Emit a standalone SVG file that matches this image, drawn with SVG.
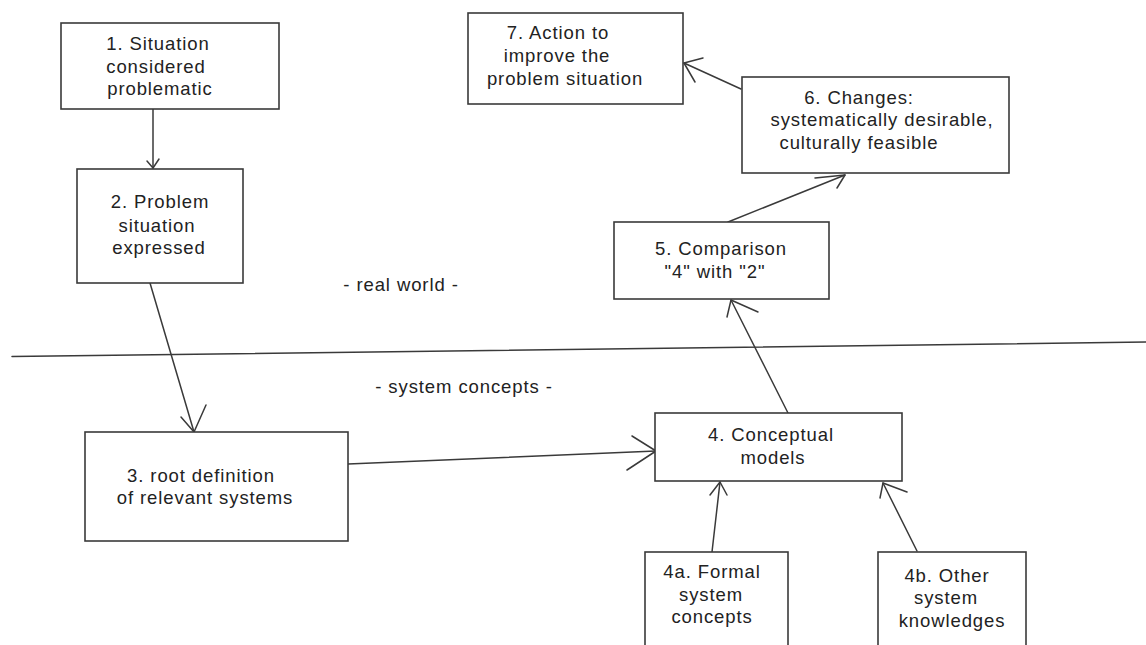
<svg xmlns="http://www.w3.org/2000/svg" width="1146" height="645" viewBox="0 0 1146 645">
<style>
.box{fill:#fff;stroke:#3a3a3a;stroke-width:1.6}
.t{font-family:"Liberation Sans",Arial,sans-serif;font-size:18.5px;letter-spacing:0.9px;fill:#222;text-anchor:middle}
.c{fill:none;stroke:#3a3a3a;stroke-width:1.5;stroke-linecap:round;stroke-linejoin:round}
</style>
<rect width="1146" height="645" fill="#fff"/>
<g id="divider">
<line class="c" x1="12" y1="356.5" x2="1146" y2="342"/>
<text class="t" x="401" y="291">- real world -</text>
<text class="t" x="464" y="393">- system concepts -</text>
</g>
<g id="connectors">
<line class="c" x1="153" y1="109" x2="153" y2="168"/>
<polyline class="c" points="147,161 153,168 159,159"/>
<line class="c" x1="150" y1="283" x2="194" y2="432"/>
<polyline class="c" points="181,417 194,432 206,405"/>
<line class="c" x1="348" y1="464" x2="656" y2="451"/>
<polyline class="c" points="632,436 656,451 627,470"/>
<line class="c" x1="788" y1="413" x2="731" y2="300"/>
<polyline class="c" points="758,312 731,300 727,317"/>
<line class="c" x1="728" y1="222" x2="845" y2="175"/>
<polyline class="c" points="815,178 845,175 837,188"/>
<line class="c" x1="741" y1="89" x2="684" y2="63"/>
<polyline class="c" points="703,58 684,63 695,82"/>
<line class="c" x1="712" y1="552" x2="720" y2="482"/>
<polyline class="c" points="710,495 720,482 727,495"/>
<line class="c" x1="917" y1="551" x2="883" y2="483"/>
<polyline class="c" points="907,492 883,483 880,498"/>
</g>
<g id="n1">
<rect class="box" x="61" y="23" width="218" height="86"/>
<text class="t" x="158" y="50">1. Situation</text>
<text class="t" x="156" y="73">considered</text>
<text class="t" x="160" y="95">problematic</text>
</g>
<g id="n2">
<rect class="box" x="77" y="169" width="166" height="114"/>
<text class="t" x="160" y="208">2. Problem</text>
<text class="t" x="157" y="232">situation</text>
<text class="t" x="159" y="254">expressed</text>
</g>
<g id="n3">
<rect class="box" x="85" y="432" width="263" height="109"/>
<text class="t" x="201" y="482">3. root definition</text>
<text class="t" x="205" y="504">of relevant systems</text>
</g>
<g id="n4">
<rect class="box" x="655" y="413" width="247" height="68"/>
<text class="t" x="771" y="441">4. Conceptual</text>
<text class="t" x="773" y="464">models</text>
</g>
<g id="n4a">
<rect class="box" x="645" y="552" width="143" height="110"/>
<text class="t" x="712" y="578">4a. Formal</text>
<text class="t" x="711" y="601">system</text>
<text class="t" x="712" y="623">concepts</text>
</g>
<g id="n4b">
<rect class="box" x="878" y="552" width="148" height="110"/>
<text class="t" x="947" y="582">4b. Other</text>
<text class="t" x="946" y="604">system</text>
<text class="t" x="952" y="627">knowledges</text>
</g>
<g id="n5">
<rect class="box" x="614" y="222" width="215" height="77"/>
<text class="t" x="721" y="255">5. Comparison</text>
<text class="t" x="715" y="278">"4" with "2"</text>
</g>
<g id="n6">
<rect class="box" x="742" y="77" width="267" height="96"/>
<text class="t" x="859" y="104">6. Changes:</text>
<text class="t" x="882" y="126">systematically desirable,</text>
<text class="t" x="859" y="149">culturally feasible</text>
</g>
<g id="n7">
<rect class="box" x="468" y="13" width="215" height="91"/>
<text class="t" x="558" y="39">7. Action to</text>
<text class="t" x="557" y="62">improve the</text>
<text class="t" x="565" y="85">problem situation</text>
</g>
</svg>
